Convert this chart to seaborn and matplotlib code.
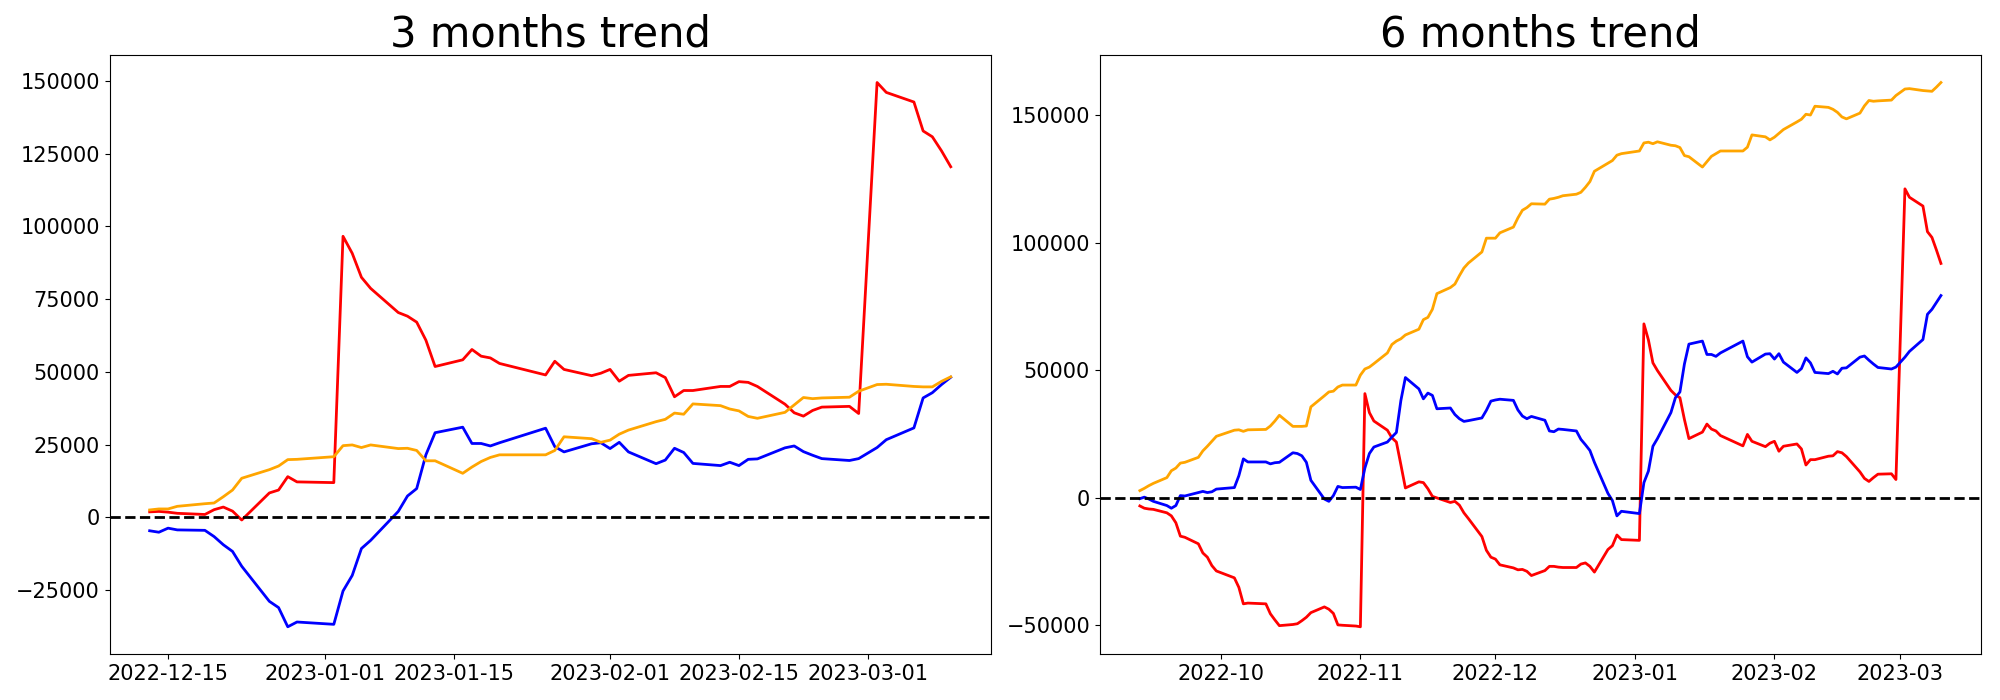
import pandas as pd
import matplotlib
matplotlib.use("Agg")
import matplotlib.pyplot as plt
import seaborn as sns

# Korean exchange holidays inside the plotted windows
krx_holidays = ["2022-10-03", "2022-10-10", "2022-12-30",
                "2023-01-23", "2023-01-24", "2023-03-01"]
dates_6m = pd.bdate_range("2022-09-13", "2023-03-10", freq="C", holidays=krx_holidays)
dates_3m = pd.bdate_range("2022-12-13", "2023-03-10", freq="C", holidays=krx_holidays)

# ---------------- 3 months trend ----------------
red_3m = [
    1900, 2050, 1800, 1400, 1000, 2650, 3550, 2150, -900, 8400, 9400, 14000, 12200,
    11950, 96600, 90750, 82500, 78700, 70400, 69150, 67100, 60900, 51850, 54150, 57700,
    55400, 54800, 52900, 48950, 53650, 50850, 48700, 49550,
    50850, 46800, 48800, 49700, 48050, 41450, 43600, 43600, 45000, 45000, 46650, 46400,
    45000, 38900, 35950, 34800, 36750, 37900, 38150, 35700,
    149450, 146050, 142750, 132800, 130800, 125950, 120500,
]
blue_3m = [
    -4600, -5100, -3700, -4300, -4450, -6600, -9400, -11700, -16800, -28850, -31000, -37600, -35950,
    -36750, -25300, -19950, -10700, -7900, 2050, 7350, 9900, 21500, 29100, 31000, 25400,
    25400, 24550, 25650, 30650, 24300, 22500, 25300, 25650,
    23650, 25800, 22500, 18450, 19700, 23750, 22300, 18550, 17800, 18950, 17800, 19950,
    20100, 23900, 24550, 22600, 21350, 20200, 19550, 20200,
    24000, 26700, 30750, 41050, 42850, 45650, 48150,
]
orange_3m = [
    2550, 2900, 2900, 3800, 4700, 4950, 7100, 9400, 13450, 16400, 17650, 19850, 19950,
    20850, 24650, 24900, 24000, 24900, 23650, 23750, 23000, 19450, 19450, 15150, 17300,
    19200, 20600, 21500, 21500, 23000, 27700, 27050, 25800,
    26550, 28600, 30000, 32900, 33700, 35850, 35450, 39000, 38400, 37250, 36600, 34700,
    34050, 36100, 38650, 41200, 40800, 41050, 41300, 43350,
    45650, 45750, 45000, 44850, 44850, 46750, 48300,
]

# ---------------- 6 months trend ----------------
red_6m = [
    -3150, -4050, -4350, -4500, -5850, -7050, -9750, -15000, -15450, -18000, -21600, -23250, -26550, -28650,
    -31350, -35100, -41550, -41250, -41550, -45450, -47850, -50100, -49650, -49350, -48150, -46800,
    -45000, -42750, -43650, -45300, -49800, -49950, -50250,
    -50550, 40900, 33450, 30150, 26550, 23550, 21900, 13000, 3900, 6300, 6000, 3600, 600, 0,
    -1800, -1350, -2850, -5850, -8100, -15150, -20550, -23250,
    -24000, -26250, -27450, -28200, -28050, -28800, -30450, -28500, -26850, -26850, -27150,
    -27300, -27300, -25950, -25500, -26850, -29100, -20250, -18750, -14550, -16350,
    -16650, 68250, 61950, 52950, 49950, 42150, 40400, 39300, 30750, 23250, 25800, 28950,
    27000, 26250, 24450, 20400, 24900, 22200, 20100, 21450,
    22200, 18300, 20250, 21150, 19200, 12900, 15000, 15000, 16350, 16500, 18150, 17700,
    16200, 10200, 7650, 6450, 7950, 9300, 9450, 7200,
    121200, 117900, 114450, 104400, 102150, 97200, 91950,
]
blue_6m = [
    -300, 300, -450, -1350, -3000, -4050, -3000, 900, 750, 2100, 2550, 2100, 2400, 3450,
    4050, 8700, 15300, 14100, 14100, 13350, 13800, 13950, 17700, 17400, 16500, 13950,
    6900, -450, -1350, 900, 4500, 4050, 4200,
    3300, 11700, 17400, 19950, 21900, 23850, 25650, 38200, 47200, 42750, 38850, 41100,
    40200, 34950, 35250, 32700, 31050, 30000, 30300, 31350, 34350, 37950,
    38400, 38700, 38250, 34500, 32100, 31050, 31950, 30450, 26250, 25950, 27000,
    26850, 26250, 22950, 20850, 18600, 13950, 1800, -1050, -7050, -5250,
    -6150, 6000, 10500, 20250, 23250, 33450, 39300, 41550, 52500, 60300, 61500, 56250,
    56250, 55500, 56850, 61500, 55350, 53250, 56400, 56550,
    54450, 56550, 53250, 49200, 50700, 54900, 52950, 49200, 48750, 49650, 48600, 50850,
    51000, 55200, 55650, 54000, 52500, 51150, 50550, 51300,
    55200, 57450, 62100, 72000, 73950, 76650, 79350,
]
orange_6m = [
    2850, 3750, 4800, 5700, 7950, 10650, 11700, 13650, 13950, 15900, 18450, 20250, 22200, 24150,
    26550, 26700, 26100, 26700, 26850, 28200, 30150, 32400, 28050, 28050, 28050, 28200,
    35700, 40050, 41550, 41850, 43500, 44250, 44250,
    48150, 50550, 51300, 52650, 56850, 60150, 61500, 62400, 63900, 66150, 69900, 70800,
    73950, 80100, 82500, 83850, 87150, 90150, 92100, 96450, 101850, 101850,
    101850, 103950, 106200, 109800, 112800, 113850, 115350, 115200, 117150, 117450, 117900,
    118500, 119100, 119850, 121800, 124050, 128100, 131250, 132300, 134400, 135000,
    136050, 139200, 139500, 138900, 139650, 138300, 138100, 137400, 134250, 133800, 129750,
    131850, 133950, 135000, 136050, 136050, 137550, 142350, 141600, 140400,
    141450, 142950, 144450, 147450, 148500, 150450, 150150, 153600, 153150, 152400, 151200,
    149400, 148650, 150900, 153750, 155850, 155550, 155700, 156000, 157800,
    160350, 160500, 159750, 159600, 159450, 161100, 162900,
]

titles = ["3 months trend", "6 months trend"]

assert len(dates_3m) == len(red_3m) == len(blue_3m) == len(orange_3m)
assert len(dates_6m) == len(red_6m) == len(blue_6m) == len(orange_6m)

fig, axes = plt.subplots(1, 2, figsize=(20, 7), dpi=100)
fig.subplots_adjust(left=0.0548, right=0.9905, bottom=0.0657, top=0.921, wspace=0.1237)

panels = [
    (axes[0], dates_3m, red_3m, blue_3m, orange_3m, titles[0]),
    (axes[1], dates_6m, red_6m, blue_6m, orange_6m, titles[1]),
]
for ax, dts, r, b, o, title in panels:
    sns.lineplot(x=dts, y=r, color="red", linewidth=2, ax=ax)
    sns.lineplot(x=dts, y=b, color="blue", linewidth=2, ax=ax)
    sns.lineplot(x=dts, y=o, color="orange", linewidth=2, ax=ax)
    ax.axhline(0, color="black", linestyle="--", linewidth=2)
    ax.set_title(title, fontsize=30)
    ax.tick_params(labelsize=15)
    ax.set_xlabel("")
    ax.set_ylabel("")

fig.savefig("out.png", dpi=100)
